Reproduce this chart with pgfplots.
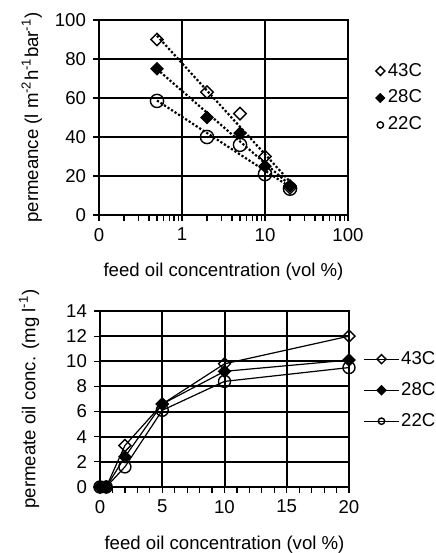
\documentclass[border=0pt]{standalone}
\usepackage{fontspec}
\setmainfont{Liberation Sans}
\usepackage{pgfplots}
\pgfplotsset{compat=1.18}

\pgfplotsset{
  every axis/.append style={
    scale only axis,
    anchor=south west,
    font=\fontsize{9.3}{11}\selectfont,
    tick label style={font=\fontsize{9.3}{11}\selectfont},
    /pgf/number format/assume math mode=true,
    axis line style={black, line width=0.8pt},
    xmajorgrids=true, ymajorgrids=true,
    grid style={black, line width=1pt},
    major grid style={black, line width=1pt},
    tick align=outside,
    xtick pos=bottom, ytick pos=left,
    major tick length=3pt, minor tick length=3pt,
    tick style={black, line width=0.6pt},
    legend cell align=left,
  },
}

\begin{document}
\begin{tikzpicture}
\useasboundingbox (0,0) rectangle (217.5pt,276.5pt);

% top: permeance vs feed concentration (log x)
\begin{axis}[
  at={(49.5pt,169pt)}, width=124.5pt, height=97.5pt,
  xmode=log, xmin=0.1, xmax=100, ymin=0, ymax=100,
  xtick={0.1,1,10,100}, xticklabels={0,1,10,100},
  minor xtick={0.2,0.3,0.4,0.5,0.6,0.7,0.8,0.9,2,3,4,5,6,7,8,9,20,30,40,50,60,70,80,90},
  ytick={0,20,40,60,80,100},
  xlabel={feed oil concentration (vol \%)},
  ylabel={permeance (l m\textsuperscript{-2}h\textsuperscript{-1}bar\textsuperscript{-1})},
  xlabel style={at={(axis description cs:0.5,-0.29)}, anchor=center},
  ylabel style={at={(axis description cs:-0.27,0.5)}, anchor=center, rotate=0},
  legend style={at={(axis description cs:1.11,0.6)}, anchor=west, draw=none, fill=none,
    row sep=1.5pt, inner sep=0pt, nodes={inner xsep=1.5pt}},
  legend image code/.code={\draw[#1] plot coordinates {(0.15cm,0cm)};},
  legend image post style={mark size=1.6pt},
]
\addplot[only marks, mark=square, mark size=2.2pt, mark options={rotate=45, fill=white, line width=0.7pt}]
  coordinates {(0.5,90) (2,63) (5,52) (10,30) (20,14)};
\addlegendentry{43C}
\addplot[only marks, mark=square*, mark size=2.2pt, mark options={rotate=45, fill=black}]
  coordinates {(0.5,75) (2,50) (5,42) (10,25) (20,15)};
\addlegendentry{28C}
\addplot[only marks, mark=o, mark size=3.3pt, mark options={fill=white, line width=0.7pt}]
  coordinates {(0.5,58.5) (2,40) (5,36) (10,21) (20,13.5)};
\addlegendentry{22C}
% logarithmic trend lines
\addplot[forget plot, densely dotted, line width=1.1pt] coordinates {(0.5,91.9) (20,17.1)};
\addplot[forget plot, densely dotted, line width=1.1pt] coordinates {(0.5,74.8) (20,15.4)};
\addplot[forget plot, densely dotted, line width=1.1pt] coordinates {(0.5,58.7) (20,14.4)};
\end{axis}

% bottom: permeate oil concentration
\begin{axis}[
  at={(50pt,33pt)}, width=124.5pt, height=88pt,
  xmin=0, xmax=20, ymin=0, ymax=14,
  xtick={0,5,10,15,20}, minor xtick={1,2,3,4,6,7,8,9,11,12,13,14,16,17,18,19},
  ytick={0,2,...,14},
  xlabel={feed oil concentration (vol \%)},
  ylabel={permeate oil conc. (mg l\textsuperscript{-1})},
  xlabel style={at={(axis description cs:0.5,-0.325)}, anchor=center},
  ylabel style={at={(axis description cs:-0.285,0.5)}, anchor=center, rotate=0},
  legend style={at={(axis description cs:1.058,0.55)}, anchor=west, draw=none, fill=none,
    row sep=3.5pt, inner sep=0pt, nodes={inner xsep=1pt}},
  legend image post style={mark size=1.6pt},
]
\addplot[black, line width=0.6pt, mark=square, mark size=2.1pt, mark options={rotate=45, fill=white, line width=0.7pt}]
  coordinates {(0,0) (0.5,0) (2,3.3) (5,6.6) (10,9.8) (20,12)};
\addlegendentry{43C}
\addplot[black, line width=0.6pt, mark=square*, mark size=2.1pt, mark options={rotate=45, fill=black}]
  coordinates {(0,0) (0.5,0) (2,2.4) (5,6.6) (10,9.2) (20,10.1)};
\addlegendentry{28C}
\addplot[black, line width=0.6pt, mark=o, mark size=3pt, mark options={fill=white, line width=0.7pt}]
  coordinates {(0,0) (0.5,0) (2,1.6) (5,6.1) (10,8.4) (20,9.5)};
\addlegendentry{22C}
\end{axis}
\end{tikzpicture}
\end{document}
